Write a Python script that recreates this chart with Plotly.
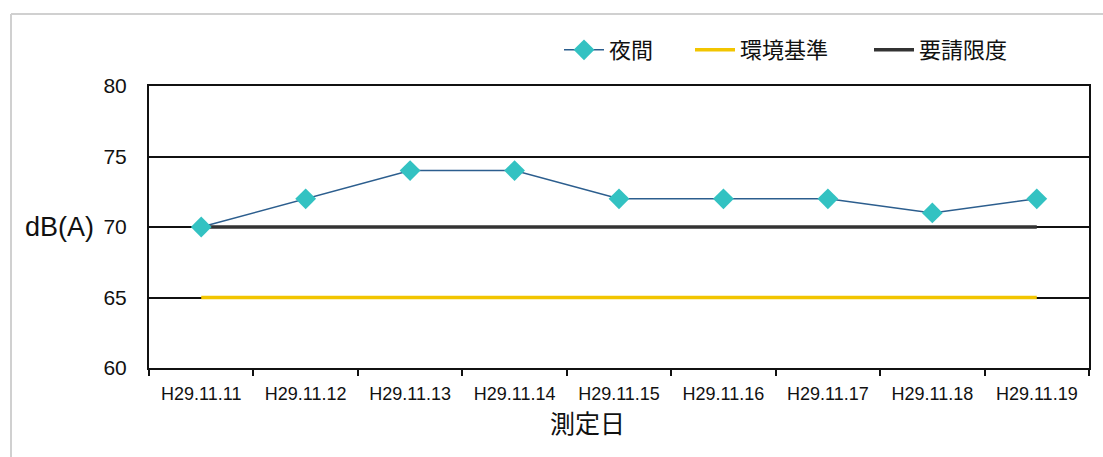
import plotly.graph_objects as go

# measurement dates and night-time noise levels
dates = ["H29.11.11", "H29.11.12", "H29.11.13", "H29.11.14", "H29.11.15",
         "H29.11.16", "H29.11.17", "H29.11.18", "H29.11.19"]
night = [70, 72, 74, 74, 72, 72, 72, 71, 72]
env_standard = [65] * 9
request_limit = [70] * 9

y_ticks = [60, 65, 70, 75, 80]

FONT = "Liberation Sans, Noto Sans CJK JP, sans-serif"
CJK = "Noto Sans CJK JP, sans-serif"

PLOT_L, PLOT_W = 149, 940
PLOT_B, PLOT_H = 368, 282


def px_x(px):
    return (px - PLOT_L) / PLOT_W


def px_y(py):
    return (PLOT_B - py) / PLOT_H


fig = go.Figure()

fig.add_trace(go.Scatter(
    x=dates, y=env_standard, name="環境基準", mode="lines",
    line=dict(color="#F2C500", width=3.5), legend="legend2",
))
fig.add_trace(go.Scatter(
    x=dates, y=request_limit, name="要請限度", mode="lines",
    line=dict(color="#333333", width=3.5), legend="legend3",
))
fig.add_trace(go.Scatter(
    x=dates, y=night, name="夜間", mode="lines+markers",
    line=dict(color="#2C5E8E", width=1.5),
    marker=dict(symbol="diamond", size=16, color="#33C2C2"),
    legend="legend",
))

legend_style = dict(
    orientation="h", xanchor="left", y=px_y(50), yanchor="middle",
    font=dict(family=CJK, size=22, color="#111111"),
    bgcolor="rgba(0,0,0,0)", itemwidth=40,
)

fig.update_layout(
    width=1103, height=457,
    margin=dict(l=149, r=14, t=86, b=89),
    paper_bgcolor="white", plot_bgcolor="white",
    font=dict(family=FONT, color="#111111"),
    showlegend=True,
    legend=dict(x=px_x(559), **legend_style),
    legend2=dict(x=px_x(690), **legend_style),
    legend3=dict(x=px_x(869), **legend_style),
    xaxis=dict(
        type="category", range=[-0.5, 8.5],
        tickson="boundaries", ticks="outside", ticklen=6, tickwidth=2,
        tickcolor="#111111", showgrid=False,
        showline=True, linecolor="#111111", linewidth=2, mirror=True,
        ticklabelstandoff=8,
        tickfont=dict(family=FONT, size=18, color="#111111"),
    ),
    yaxis=dict(
        range=[60, 80], tickvals=y_ticks, showgrid=True,
        gridcolor="#111111", gridwidth=1.5, zeroline=False,
        showline=True, linecolor="#111111", linewidth=2, mirror=True,
        ticks="", ticklabelstandoff=16,
        tickfont=dict(family=FONT, size=21, color="#111111"),
    ),
    annotations=[
        dict(text="dB(A)", xref="paper", yref="y", x=px_x(59), y=70,
             xanchor="center", yanchor="middle", showarrow=False,
             font=dict(family=FONT, size=27, color="#111111")),
        dict(text="測定日", xref="paper", yref="paper", x=px_x(587), y=px_y(422),
             xanchor="center", yanchor="middle", showarrow=False,
             font=dict(family=CJK, size=25, color="#111111")),
    ],
    shapes=[
        # light frame around the chart area
        dict(type="line", xref="paper", yref="paper",
             x0=px_x(11), y0=px_y(14), x1=1.2, y1=px_y(14),
             line=dict(color="#D0D0D0", width=2)),
        dict(type="line", xref="paper", yref="paper",
             x0=px_x(11), y0=-1.0, x1=px_x(11), y1=px_y(14),
             line=dict(color="#D0D0D0", width=2)),
    ],
)

fig.write_html("out.html")
